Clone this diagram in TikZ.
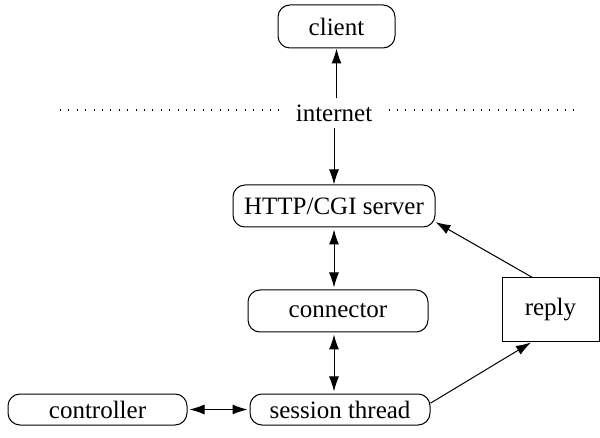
\documentclass[tikz,border=0pt]{standalone}
\usepackage{fontspec}
\setmainfont{Liberation Serif}
\newfontfamily\boxfont{Liberation Serif}
\usetikzlibrary{arrows.meta}

\begin{document}
\begin{tikzpicture}[x=0.5pt,y=-0.5pt,line width=0.5pt,
		>={Latex[length=7.5pt,width=5pt]},
		font=\boxfont\fontsize{12.5}{14}\selectfont,
		rbox/.style={draw, rounded corners=6pt, inner sep=0pt, minimum height=21pt},
		sbox/.style={draw, inner sep=0pt},
		link/.style={<->, shorten >=1pt, shorten <=1pt},
		net/.style={line width=0.6pt, dash pattern=on 0.5pt off 3.7pt}]
	%% ========================================================
	\useasboundingbox (0,0) rectangle (600,438);

	\node[rbox, minimum width=58.5pt, minimum height=21.5pt] (client) at (336.5,26.5) {client};
	\node[inner xsep=8pt, inner ysep=3pt] (inet) at (334,113) {internet};
	\coordinate (netleft) at (53,110);
	\coordinate (netright) at (578,110);
	\draw[net] (inet.west |- netleft) -- (netleft);
	\draw[net] (inet.east |- netright) -- (netright);

	\node[rbox, minimum width=101pt] (http) at (334,206) {HTTP/CGI server};
	\node[rbox, minimum width=90pt] (conn) at (338,311) {connector};
	\node[rbox, minimum width=90pt, minimum height=15.5pt] (session) at (340,409.5) {session thread};
	\node[rbox, minimum width=89.5pt, minimum height=15.5pt] (ctrl) at (97.5,409.5) {controller};
	\node[sbox, minimum width=48.5pt, minimum height=32pt] (reply) at (550.5,310) {reply};

	%% arrows
	\draw[->] (inet.north -| client.south) -- (client.south);
	\draw[->] (inet.south -| http.north) -- (http.north);
	\draw[link] (http.south) -- (http.south |- conn.north);
	\draw[link] (conn.south -| http.south) -- (session.north -| http.south);
	\draw[link] (ctrl.east) -- (session.west);
	\draw[->] (session.4) -- (reply.239);
	\draw[->] (reply.119) -- (http.351);
	%% ========================================================
\end{tikzpicture}
\end{document}
